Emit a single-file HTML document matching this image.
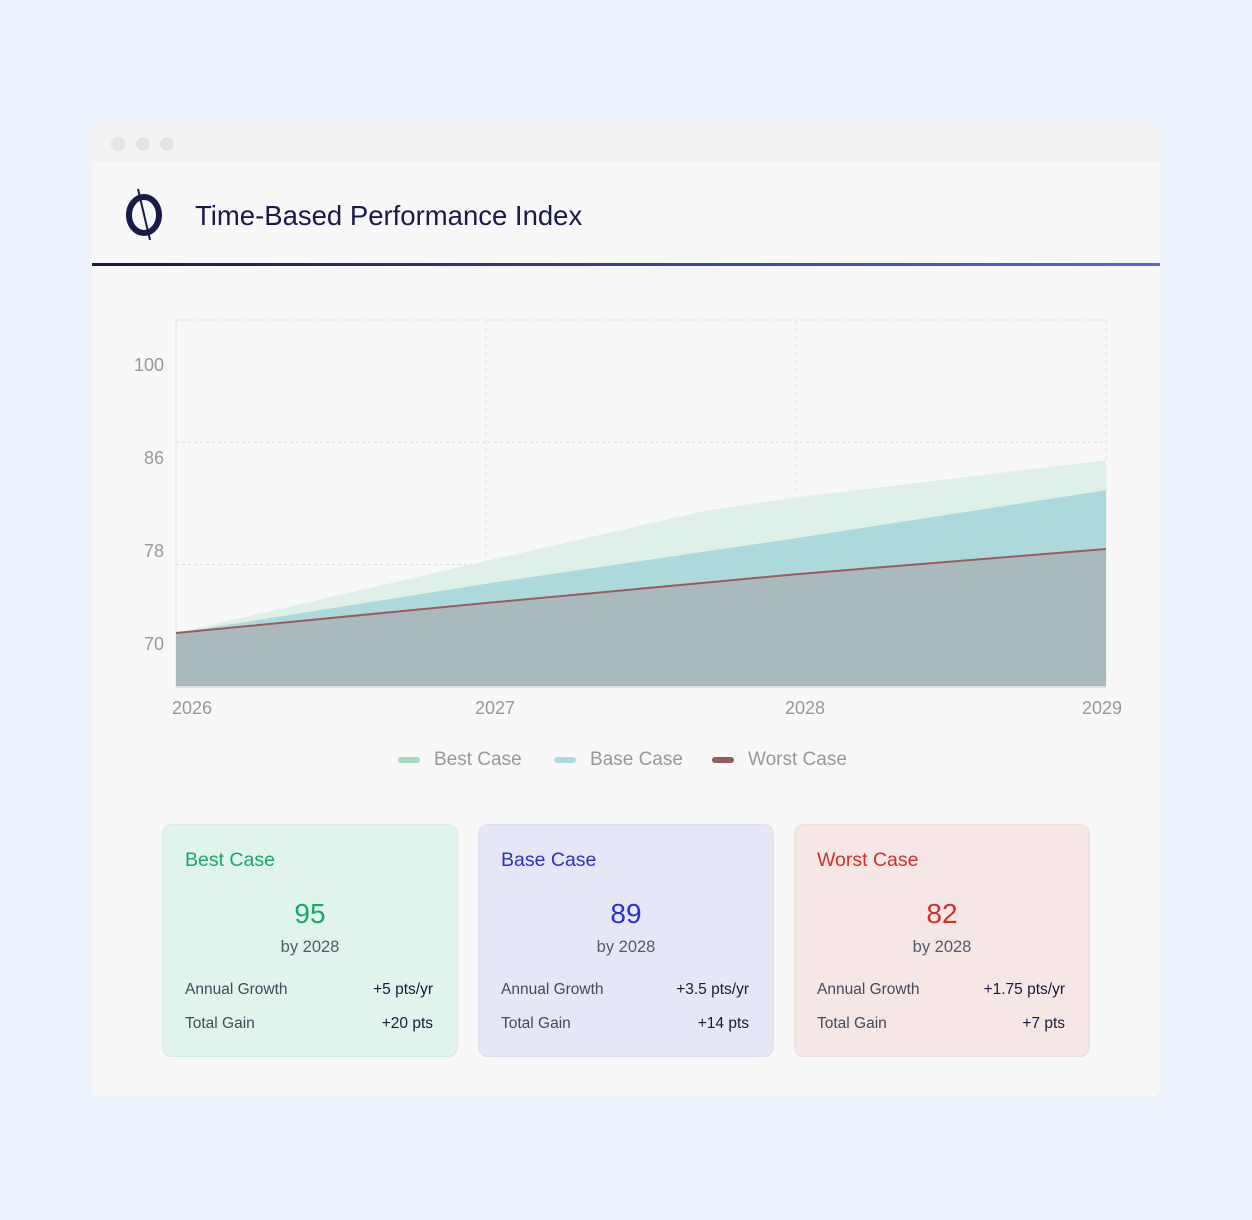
<!DOCTYPE html>
<html><head><meta charset="utf-8">
<style>
*{box-sizing:border-box;margin:0;padding:0}
body{width:1252px;height:1220px;background:#edf3fd;font-family:"Liberation Sans",sans-serif;position:relative;overflow:hidden}
.win{position:absolute;left:92px;top:124px;width:1068px;height:972px;background:#f8f8f8;border-radius:6px;overflow:hidden}
.bar{height:38px;background:#f3f3f3;position:relative}
.dot{position:absolute;top:13px;width:14px;height:14px;border-radius:50%;background:#e4e4e4}
.title{position:absolute;left:103px;top:76px;font-size:27.5px;color:#1b1a4a}
.rule{position:absolute;left:0;top:139px;width:1068px;height:3px;background:linear-gradient(90deg,#1a1a3e,#5c66e0)}
.box{position:absolute;top:700px;width:296px;height:233px;border-radius:10px;padding:0 22px}
.box h3{position:absolute;left:22px;top:24px;font-weight:normal;font-size:19.5px}
.big{position:absolute;left:0;width:100%;top:73px;text-align:center;font-size:28px}
.by{position:absolute;left:0;width:100%;top:113px;text-align:center;font-size:16.5px;color:#555a6a}
.row{position:absolute;left:22px;right:24px;font-size:15.5px;color:#444a5a;display:flex;justify-content:space-between}
.row b{font-weight:normal;color:#1a1a3a}
.leg{position:absolute;top:625px;font-size:19px;color:#999;display:flex;align-items:center}
.leg i{display:inline-block;width:22px;height:6px;border-radius:3px;margin-right:14px}
</style></head><body>
<div class="win">
 <div class="bar">
  <span class="dot" style="left:19px"></span>
  <span class="dot" style="left:44px"></span>
  <span class="dot" style="left:68px"></span>
 </div>
 <svg style="position:absolute;left:30px;top:62px" width="44" height="56">
  <ellipse cx="22" cy="29" rx="15" ry="18" fill="none" stroke="#1a1a4a" stroke-width="6"/>
  <line x1="16" y1="3" x2="28" y2="54" stroke="#1a1a4a" stroke-width="2"/>
 </svg>
 <div class="title">Time-Based Performance Index</div>
 <div class="rule"></div>
 <svg id="chart" style="position:absolute;left:0;top:0" width="1068" height="620"></svg>
 <div class="leg" style="left:306px"><i style="background:#a3dbc0"></i>Best Case</div>
 <div class="leg" style="left:462px"><i style="background:#acdbe0"></i>Base Case</div>
 <div class="leg" style="left:620px"><i style="background:#935c5e"></i>Worst Case</div>

 <div class="box" style="left:70px;background:#e0f3ec;border:1px solid #d8ece6">
  <h3 style="color:#18a86c">Best Case</h3>
  <div class="big" style="color:#18a86c">95</div>
  <div class="by">by 2028</div>
  <div class="row" style="top:156px"><span>Annual Growth</span><b>+5 pts/yr</b></div>
  <div class="row" style="top:190px"><span>Total Gain</span><b>+20 pts</b></div>
 </div>
 <div class="box" style="left:386px;background:#e5e7f6;border:1px solid #dcdff0">
  <h3 style="color:#2e2fd0">Base Case</h3>
  <div class="big" style="color:#2e2fd0">89</div>
  <div class="by">by 2028</div>
  <div class="row" style="top:156px"><span>Annual Growth</span><b>+3.5 pts/yr</b></div>
  <div class="row" style="top:190px"><span>Total Gain</span><b>+14 pts</b></div>
 </div>
 <div class="box" style="left:702px;background:#f6e6e6;border:1px solid #eedddd">
  <h3 style="color:#d0302c">Worst Case</h3>
  <div class="big" style="color:#d0302c">82</div>
  <div class="by">by 2028</div>
  <div class="row" style="top:156px"><span>Annual Growth</span><b>+1.75 pts/yr</b></div>
  <div class="row" style="top:190px"><span>Total Gain</span><b>+7 pts</b></div>
 </div>
</div>
<script>
const years = [2026, 2027, 2027.71, 2028, 2029];
const bestValues = [70, 76, 80.2, 81.3, 84.4];
const baseValues = [70, 74.1, 76.8, 77.9, 81.9];
const worstValues = [70, 72.5, 74.2, 74.9, 77];
const xTickLabels = ["2026", "2027", "2028", "2029"];
const yTickLabels = ["100", "86", "78", "70"];

const NS = "http://www.w3.org/2000/svg";
const svg = document.getElementById("chart");
const L = 84, R = 1014, T = 196, B = 563;
const x = v => L + (v - 2026) / 3 * (R - L);
const y = v => 509 - (v - 70) * 12;
function mk(tag, attrs, parent) {
  const e = document.createElementNS(NS, tag);
  for (const k in attrs) e.setAttribute(k, attrs[k]);
  (parent || svg).appendChild(e);
  return e;
}
for (let i = 0; i < 4; i++) {
  const gy = T + i * (B - T) / 3;
  const g = mk("line", {x1: L, x2: R, y1: gy, y2: gy, stroke: "#dedede", "stroke-dasharray": "3 3"});
  
  
}
xTickLabels.forEach((t, i) => {
  const gx = x(+t);
  const g = mk("line", {x1: gx, x2: gx, y1: T, y2: B, stroke: "#e2e2e2", "stroke-dasharray": "4 4"});
  
  
  const tx = mk("text", {x: i === 0 ? gx - 4 : (i === 3 ? gx - 24 : gx - 11), y: 590, "font-size": 18, fill: "#999"});
  tx.textContent = t;
  
  
});
yTickLabels.forEach((t, i) => {
  const tx = mk("text", {x: 72, y: 247 + i * 93, "font-size": 18, fill: "#999", "text-anchor": "end"});
  tx.textContent = t;
  
  
});
mk("line", {x1: L, x2: L, y1: T, y2: B, stroke: "#e2e2e2"});
function area(vals, fill, name) {
  let d = "M" + x(years[0]) + "," + B;
  years.forEach((yr, i) => d += " L" + x(yr) + "," + y(vals[i]));
  d += " L" + x(years[years.length - 1]) + "," + B + " Z";
  const p = mk("path", {d: d, fill: fill});
  
  
}
area(bestValues, "#dff0e8", "best-case-area");
area(baseValues, "#acd9dc", "base-case-area");
area(worstValues, "#a8babd", "worst-case-area");
const line = mk("polyline", {points: years.map((yr, i) => x(yr) + "," + y(worstValues[i])).join(" "), fill: "none", stroke: "#a05a5e", "stroke-width": 2});


mk("line", {x1: L, x2: R, y1: B, y2: B, stroke: "#e0e0e0", "stroke-width": 2});
</script>
</body></html>
